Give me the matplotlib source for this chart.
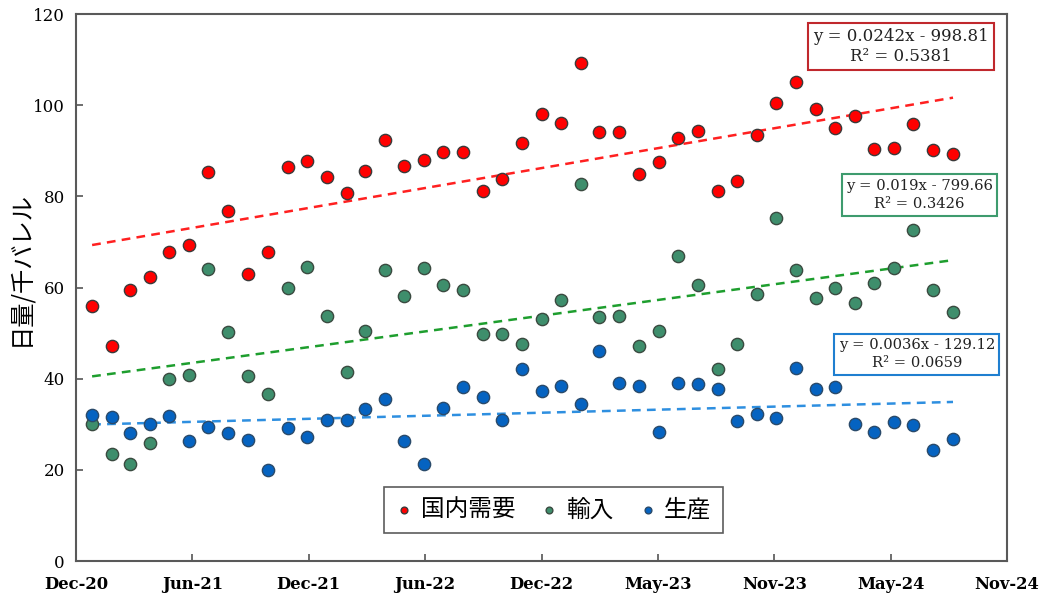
import matplotlib
matplotlib.use("Agg")
import matplotlib.pyplot as plt
import matplotlib.dates as mdates
import numpy as np
import pandas as pd

# ---------------- data ----------------
months = pd.date_range("2021-01-01", periods=45, freq="MS")

domestic = [56.0, 47.1, 59.5, 62.4, 67.9, 69.4, 85.4, 76.8, 63.0, 67.9, 86.4, 87.8,
            84.2, 80.8, 85.5, 92.3, 86.6, 87.9, 89.8, 89.7, 81.1, 83.9, 91.7, 98.0,
            96.2, 109.3, 94.1, 94.1, 84.8, 87.6, 92.8, 94.3, 81.1, 83.4, 93.4,
            100.4, 105.0, 99.2, 95.0, 97.6, 90.4, 90.7, 95.9, 90.1, 89.3]
imports = [30.1, 23.4, 21.3, 26.0, 39.9, 40.7, 64.0, 50.3, 40.5, 36.6, 60.0, 64.6,
           53.8, 41.5, 50.4, 63.9, 58.2, 64.3, 60.6, 59.5, 49.9, 49.8, 47.7, 53.2,
           57.3, 82.7, 53.5, 53.8, 47.1, 50.4, 66.9, 60.6, 42.1, 47.7, 58.5,
           75.2, 63.8, 57.6, 59.8, 56.6, 61.0, 64.3, 72.6, 59.4, 54.7]
production = [32.0, 31.7, 28.1, 30.1, 31.8, 26.3, 29.3, 28.1, 26.5, 19.9, 29.1, 27.1,
              30.9, 31.0, 33.3, 35.6, 26.3, 21.2, 33.6, 38.1, 36.0, 30.9, 42.2, 37.2,
              38.4, 34.4, 46.1, 39.1, 38.5, 28.4, 39.0, 38.8, 37.7, 30.7, 32.2,
              31.4, 42.3, 37.7, 38.2, 30.1, 28.2, 30.6, 29.8, 24.4, 26.7]

series_names = ["国内需要", "輸入", "生産"]
equations = ["y = 0.0242x - 998.81\nR² = 0.5381",
             "y = 0.019x - 799.66\nR² = 0.3426",
             "y = 0.0036x - 129.12\nR² = 0.0659"]
xtick_labels = ["Dec-20", "Jun-21", "Dec-21", "Jun-22", "Dec-22",
                "May-23", "Nov-23", "May-24", "Nov-24"]
yticks = [0, 20, 40, 60, 80, 100, 120]
ylabel = "日量/千バレル"

# ---------------- style ----------------
marker_colors = ["#FF0000", "#3E8E6C", "#0563C1"]
edge_colors = ["#3a3a3a", "#3a4a40", "#2a4a6a"]
trend_colors = ["#FF2020", "#1E9E2E", "#2E8FE0"]
box_colors = ["#C0282D", "#3E9B6E", "#1F7FD0"]
box_pos = [(0.886, 0.940), (0.906, 0.669), (0.903, 0.378)]
box_fs = [12, 10.6, 10.6]
box_ls = [1.25, 1.4, 1.4]

serif = "DejaVu Serif"
jp = ["Noto Sans CJK JP", "DejaVu Sans"]

fig = plt.figure(figsize=(10.43, 5.99), dpi=100)
ax = fig.add_axes([0.0729, 0.0634, 0.8926, 0.9132])

x = mdates.date2num(months)
all_series = [domestic, imports, production]
handles = []
for vals, mc, ec, tc in zip(all_series, marker_colors, edge_colors, trend_colors):
    h = ax.scatter(months, vals, s=78, c=mc, edgecolors=ec, linewidths=1.0, zorder=3)
    handles.append(h)
    coef = np.polyfit(x, vals, 1)
    xs = np.array([x[0], x[-1]])
    ax.plot(mdates.num2date(xs), np.polyval(coef, xs), color=tc, lw=1.8,
            linestyle=(0, (3.5, 2.5)), zorder=2)

for txt, col, (bx, by), fs, ls in zip(equations, box_colors, box_pos, box_fs, box_ls):
    ax.text(bx, by, txt, transform=ax.transAxes, ha="center", va="center",
            multialignment="center", fontsize=fs, family=serif, color="#222222",
            linespacing=ls,
            bbox=dict(boxstyle="square,pad=0.3", fc="white", ec=col, lw=1.5),
            zorder=5)

# x axis
start = mdates.date2num(pd.Timestamp("2020-12-07"))
step = 181
xt = [start + i * step for i in range(len(xtick_labels))]
ax.set_xlim(xt[0], xt[-1])
ax.set_xticks(xt)
ax.set_xticklabels(xtick_labels, family=serif, fontweight="bold", fontsize=11.8)

ax.set_ylim(0, 120)
ax.set_yticks(yticks)
ax.set_yticklabels([str(v) for v in yticks], family=serif, fontsize=12)

ax.tick_params(axis="both", direction="in", length=5, width=1.2, color="#555555")
ax.tick_params(axis="x", pad=11)
ax.tick_params(axis="y", pad=8)
for sp in ax.spines.values():
    sp.set_color("#595959")
    sp.set_linewidth(1.5)

ax.set_ylabel(ylabel, family=jp, fontsize=17.5)
ax.yaxis.set_label_coords(-0.046, 0.535)

leg = ax.legend(handles, series_names, loc="center", bbox_to_anchor=(0.513, 0.0935),
                ncol=3, prop={"family": jp, "size": 17}, frameon=True, fancybox=False,
                edgecolor="#333333", handlelength=0.7, handletextpad=0.35,
                columnspacing=1.1, markerscale=0.55, borderpad=0.5, borderaxespad=0)
leg.get_frame().set_linewidth(1.2)

fig.savefig("out.png", dpi=100)
